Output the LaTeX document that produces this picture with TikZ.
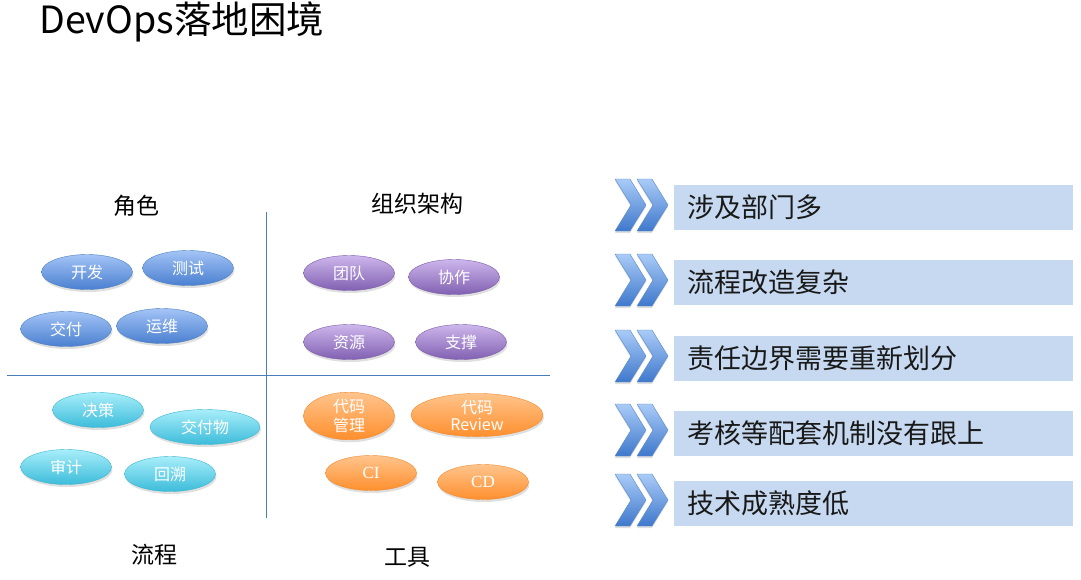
\documentclass[tikz,border=0pt]{standalone}
\usepackage{fontspec}
\setmainfont{Noto Sans CJK SC}
\newfontfamily\serifcd{Liberation Serif}
\usetikzlibrary{shapes.geometric,shadows}
\definecolor{quadline}{HTML}{4A7EBB}
\definecolor{rowfill}{HTML}{C6D9F0}
\definecolor{HTML4F81BD}{HTML}{4F81BD}
\definecolor{3DB5CF}{HTML}{3DB5CF}
\definecolor{7B5BA6}{HTML}{7B5BA6}
\definecolor{F08A2C}{HTML}{F08A2C}
\definecolor{B8D3FA}{HTML}{A3C4F6}
\definecolor{4A7FD0}{HTML}{4A7FD0}
\definecolor{A8EEFA}{HTML}{A8EEFA}
\definecolor{3CBCDA}{HTML}{3CBCDA}
\definecolor{CDB6EC}{HTML}{CDB6EC}
\definecolor{8160B2}{HTML}{8160B2}
\definecolor{FFC48C}{HTML}{FFC48C}
\definecolor{FF8F2E}{HTML}{FF8F2E}
\definecolor{A9CBF7}{HTML}{A9CBF7}
\definecolor{3F78CC}{HTML}{3F78CC}
\definecolor{5A8AC8}{HTML}{5A8AC8}
\tikzset{
  bub/.style={ellipse, inner sep=0pt, minimum width=91pt, minimum height=35pt, text=white,
    font=\fontsize{16}{18}\selectfont, align=center,
    drop shadow={opacity=0.25, shadow xshift=1pt, shadow yshift=-2.5pt}},
  bluebub/.style={bub, draw=HTML4F81BD, top color=B8D3FA, bottom color=4A7FD0},
  cyanbub/.style={bub, draw=3DB5CF, top color=A8EEFA, bottom color=3CBCDA},
  purpbub/.style={bub, draw=7B5BA6, top color=CDB6EC, bottom color=8160B2},
  orabub/.style={bub, draw=F08A2C, top color=FFC48C, bottom color=FF8F2E},
  quadlabel/.style={font=\fontsize{23}{25}\selectfont, text=black},
  rowbox/.style={rectangle, fill=rowfill, minimum width=399pt, minimum height=45pt, inner xsep=13pt,
    text width=373pt, align=left, font=\fontsize{27}{29}\selectfont, text=black!90, anchor=west},
  chev/.style={top color=A9CBF7, bottom color=3F78CC, draw=5A8AC8, line width=0.4pt,
    drop shadow={opacity=0.25, shadow xshift=0pt, shadow yshift=-2pt}},
}
\newcommand{\chevpair}[1]{%
  \foreach \cx in {615,637}{
    \shade[chev] (\cx,#1-26) -- (\cx+15,#1-26) -- (\cx+31,#1) -- (\cx+15,#1+26) -- (\cx,#1+26) -- (\cx+16,#1) -- cycle;
  }%
}
\begin{document}
\begin{tikzpicture}[x=1pt,y=-1pt]
\useasboundingbox (0,0) rectangle (1081,579);
% title
\node[anchor=west, font=\fontsize{37.5}{40}\selectfont, inner xsep=0pt] (title) at (39,22) {DevOps落地困境};
% quadrant lines
\coordinate (vtop) at (266,212);
\coordinate (vbot) at (266,518);
\coordinate (hl) at (7,375);
\coordinate (hr) at (550,375);
\draw[quadline, line width=0.9pt] (vtop) -- (vbot);
\draw[quadline, line width=0.9pt] (hl) -- (hr);
% labels
\node[quadlabel] (lrole) at (136,206) {角色};
\node[quadlabel] (lorg) at (417,204) {组织架构};
\node[quadlabel] (lproc) at (154,555) {流程};
\node[quadlabel] (ltool) at (407,557) {工具};
% role
\node[bluebub] (kf) at (87,272) {开发};
\node[bluebub] (cs) at (188,268) {测试};
\node[bluebub] (jf) at (66,329) {交付};
\node[bluebub] (yw) at (162,326) {运维};
% process
\node[cyanbub] (jc) at (98,410) {决策};
\node[cyanbub, minimum width=110pt] (jfw) at (205,427) {交付物};
\node[cyanbub] (sj) at (66,467) {审计};
\node[cyanbub] (hs) at (170,474) {回溯};
% org
\node[purpbub] (td) at (349,273) {团队};
\node[purpbub] (xz) at (454,277) {协作};
\node[purpbub] (zy) at (349,342) {资源};
\node[purpbub] (zc) at (461,342) {支撑};
% tools
\node[orabub, minimum height=47pt, font=\fontsize{16}{19}\selectfont] (dmgl) at (349,416) {代码\\管理};
\node[orabub, minimum width=132pt, font=\fontsize{16}{17}\selectfont] (dmrv) at (477,415) {代码\\Review};
\node[orabub, font=\serifcd\fontsize{17}{19}\selectfont] (ci) at (371,473) {CI};
\node[orabub, font=\serifcd\fontsize{17}{19}\selectfont] (cd) at (483,482) {CD};
% right list
\chevpair{205}
\chevpair{280}
\chevpair{356}
\chevpair{430}
\chevpair{500}
\node[rowbox] (r1) at (674,207) {涉及部门多};
\node[rowbox] (r2) at (674,282) {流程改造复杂};
\node[rowbox] (r3) at (674,358) {责任边界需要重新划分};
\node[rowbox] (r4) at (674,433) {考核等配套机制没有跟上};
\node[rowbox] (r5) at (674,503) {技术成熟度低};
\end{tikzpicture}
\end{document}
